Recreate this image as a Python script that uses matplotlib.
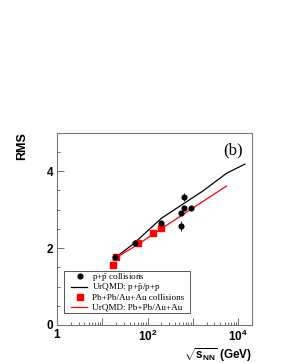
import matplotlib
matplotlib.use("Agg")
import matplotlib.pyplot as plt
from matplotlib.patches import Rectangle
from matplotlib.ticker import FixedLocator, LogLocator, NullFormatter, MultipleLocator

plt.rcParams["mathtext.fontset"] = "custom"
plt.rcParams["mathtext.rm"] = "Liberation Serif"
plt.rcParams["mathtext.bf"] = "Liberation Sans:bold"
plt.rcParams["mathtext.it"] = "Liberation Serif:italic"

# p+pbar data
pp_sqrts = [19.4, 53, 200, 546, 546, 630, 630, 900]
pp_rms = [1.76, 2.13, 2.64, 2.57, 2.91, 3.04, 3.32, 3.05]
pp_err = [0.02, 0.03, 0.04, 0.12, 0.04, 0.04, 0.10, 0.03]

# Pb+Pb / Au+Au data
aa_sqrts = [17.3, 19.6, 62.4, 130, 200]
aa_rms = [1.57, 1.76, 2.14, 2.39, 2.52]

# UrQMD curves
urqmd_pp_sqrts = [19.4, 50, 200, 600, 1700, 5500, 14000]
urqmd_pp_rms = [1.75, 2.12, 2.77, 3.14, 3.49, 3.94, 4.18]
urqmd_aa_sqrts = [17.3, 62.4, 200, 1000, 5500]
urqmd_aa_rms = [1.70, 2.10, 2.50, 3.04, 3.61]

legend_labels = [r"p+$\bar{\rm p}$ collisions",
                 r"UrQMD: p+$\bar{\rm p}$/p+p",
                 "Pb+Pb/Au+Au collisions",
                 "UrQMD: Pb+Pb/Au+Au"]

fig = plt.figure(figsize=(2.81, 3.63), dpi=100)
ax = fig.add_axes([0.203, 0.1047, 0.693, 0.530])

ax.plot(urqmd_pp_sqrts, urqmd_pp_rms, color="black", lw=0.9)
ax.plot(urqmd_aa_sqrts, urqmd_aa_rms, color="red", lw=0.9)
ax.errorbar(pp_sqrts, pp_rms, yerr=pp_err, fmt="o", color="black", ms=3.4,
            elinewidth=0.6, capsize=0)
ax.plot(aa_sqrts, aa_rms, "s", color="red", ms=4.5, lw=0)

ax.set_xscale("log")
ax.set_xlim(1, 2e4)
ax.set_ylim(0, 5)

ax.xaxis.set_major_locator(FixedLocator([1, 10, 100, 1000, 1e4]))
ax.set_xticklabels(["1", "", r"$\mathbf{10^{2}}$", "", r"$\mathbf{10^{4}}$"])
ax.xaxis.set_minor_locator(LogLocator(base=10, subs=range(2, 10), numticks=20))
ax.xaxis.set_minor_formatter(NullFormatter())
ax.yaxis.set_major_locator(FixedLocator([0, 2, 4]))
ax.yaxis.set_minor_locator(MultipleLocator(0.5))

ax.tick_params(which="both", direction="in", top=False, right=False,
               color="#555555", width=0.6)
ax.tick_params(which="major", length=5, labelsize=8.5, pad=3)
ax.tick_params(which="minor", length=2.5)
for lab in ax.get_xticklabels() + ax.get_yticklabels():
    lab.set_fontfamily("Liberation Sans")
    lab.set_fontweight("bold")
for sp in ax.spines.values():
    sp.set_color("#777777")
    sp.set_linewidth(0.8)

ax.text(0.952, 0.91, "(b)", transform=ax.transAxes, ha="right", va="center",
        fontfamily="Liberation Serif", fontsize=12)

fig.text(0.077, 0.635, "RMS", rotation=90, ha="center", va="top",
         fontfamily="Liberation Sans", fontweight="bold", fontsize=9)
fig.text(0.896, 0.022, r"$\mathbf{\sqrt{s_{NN}}}$ (GeV)", ha="right", va="center",
         fontfamily="Liberation Sans", fontweight="bold", fontsize=8.5)

# ROOT-style legend box, laid out by hand so rows are evenly spaced
tr = ax.transAxes
ax.add_patch(Rectangle((0.0375, 0.061), 0.6455, 0.221, transform=tr,
                       facecolor="white", edgecolor="#555555", lw=0.7, zorder=5))
row_y = [0.253, 0.200, 0.147, 0.094]
keys = [("o", "black", None), (None, "black", "-"), ("s", "red", None), (None, "red", "-")]
for y, (mk, col, ls), label in zip(row_y, keys, legend_labels):
    if mk:
        ax.plot([0.118], [y], mk, color=col, ms=3.4 if mk == "o" else 4.5,
                transform=tr, zorder=6, clip_on=False)
    else:
        ax.plot([0.072, 0.153], [y, y], ls, color=col, lw=0.9,
                transform=tr, zorder=6, clip_on=False)
    ax.text(0.178, y - 0.015, label, transform=tr, ha="left", va="baseline",
            fontfamily="Liberation Serif", fontsize=6.6, zorder=6)

fig.savefig("out.png", dpi=100)
